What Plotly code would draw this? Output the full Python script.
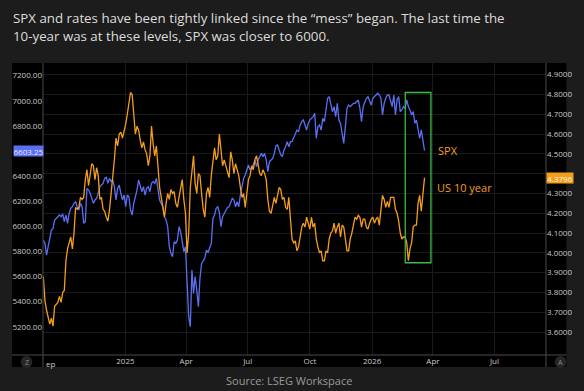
import pandas as pd
import plotly.graph_objects as go

# ---------------- data ----------------
start_date = "2024-09-01 14:00"
end_date = "2026-03-19 12:00"

ten_year = [
    3.88, 3.76, 3.71, 3.68, 3.64, 3.67, 3.63, 3.73, 3.74, 3.75,
    3.78, 3.75, 3.80, 3.81, 3.96, 4.02, 4.05, 4.08, 4.02, 4.10,
    4.23, 4.22, 4.23, 4.28, 4.27, 4.28, 4.37, 4.42, 4.34, 4.39,
    4.45, 4.44, 4.37, 4.43, 4.39, 4.27, 4.28, 4.22, 4.21, 4.18,
    4.16, 4.22, 4.30, 4.39, 4.47, 4.58, 4.54, 4.60, 4.61, 4.58,
    4.61, 4.65, 4.70, 4.76, 4.81, 4.80, 4.68, 4.60, 4.64, 4.62,
    4.57, 4.53, 4.56, 4.52, 4.50, 4.44, 4.49, 4.64, 4.55, 4.49,
    4.54, 4.42, 4.33, 4.28, 4.23, 4.18, 4.25, 4.30, 4.27, 4.32,
    4.30, 4.31, 4.25, 4.23, 4.28, 4.33, 4.37, 4.27, 4.20, 4.00,
    4.10, 4.33, 4.42, 4.49, 4.35, 4.30, 4.40, 4.39, 4.30, 4.22,
    4.18, 4.30, 4.33, 4.28, 4.39, 4.47, 4.53, 4.47, 4.49, 4.60,
    4.52, 4.44, 4.47, 4.44, 4.42, 4.38, 4.51, 4.47, 4.40, 4.45,
    4.42, 4.39, 4.33, 4.28, 4.30, 4.23, 4.30, 4.37, 4.39, 4.44,
    4.42, 4.47, 4.49, 4.44, 4.40, 4.39, 4.42, 4.40, 4.37, 4.27,
    4.21, 4.20, 4.24, 4.28, 4.25, 4.30, 4.33, 4.32, 4.27, 4.28,
    4.23, 4.22, 4.28, 4.17, 4.07, 4.05, 4.06, 4.01, 4.03, 4.08,
    4.13, 4.15, 4.13, 4.18, 4.15, 4.12, 4.18, 4.13, 4.15, 4.07,
    4.03, 4.00, 4.01, 3.96, 3.96, 4.01, 4.00, 4.07, 4.10, 4.11,
    4.15, 4.10, 4.13, 4.15, 4.08, 4.14, 4.13, 4.07, 4.01, 4.01,
    4.07, 4.10, 4.15, 4.18, 4.17, 4.19, 4.18, 4.13, 4.17, 4.17,
    4.13, 4.12, 4.15, 4.17, 4.18, 4.15, 4.17, 4.18, 4.14, 4.22,
    4.29, 4.27, 4.23, 4.26, 4.23, 4.28, 4.28, 4.28, 4.22, 4.20,
    4.16, 4.10, 4.07, 4.08, 4.08, 4.05, 3.96, 4.02, 4.05, 4.13,
    4.14, 4.14, 4.25, 4.29, 4.21, 4.28, 4.3796,
]

spx = [
    5891, 5864, 5771, 5838, 5917, 5970, 5984, 6050, 6063, 6077,
    6090, 6077, 6098, 6037, 6090, 6024, 6103, 6143, 6156, 6183,
    6196, 6156, 6130, 6183, 6156, 6024, 6037, 6302, 6289, 6263,
    6223, 6183, 6210, 6223, 6263, 6316, 6329, 6342, 6382, 6390,
    6342, 6382, 6356, 6369, 6316, 6210, 6302, 6329, 6263, 6210,
    6249, 6156, 6249, 6236, 6130, 6090, 6183, 6236, 6289, 6369,
    6329, 6276, 6316, 6249, 6302, 6316, 6276, 6342, 6356, 6342,
    6382, 6276, 6210, 6183, 6156, 6077, 6050, 5997, 5838, 5785,
    5758, 5877, 5864, 5891, 5997, 5957, 5877, 5798, 5838, 5599,
    5280, 5200, 5652, 5466, 5599, 5492, 5360, 5590, 5705, 5725,
    5750, 5810, 5790, 5830, 5864, 6063, 6090, 6143, 6156, 6110,
    5997, 6077, 6103, 6130, 6150, 6156, 6196, 6223, 6210, 6156,
    6196, 6156, 6249, 6316, 6382, 6409, 6449, 6488, 6449, 6475,
    6488, 6528, 6475, 6528, 6555, 6581, 6555, 6581, 6528, 6435,
    6515, 6528, 6541, 6581, 6640, 6648, 6608, 6568, 6555, 6608,
    6634, 6674, 6634, 6674, 6674, 6701, 6727, 6767, 6754, 6807,
    6834, 6847, 6807, 6767, 6820, 6847, 6860, 6873, 6900, 6701,
    6794, 6807, 6767, 6860, 6834, 6953, 7020, 7033, 6980, 6913,
    6953, 6873, 6980, 6847, 6820, 6754, 6661, 6794, 6940, 6966,
    6953, 6966, 6980, 6980, 6993, 7006, 6940, 6834, 6953, 6980,
    7020, 7033, 7006, 6966, 7020, 7033, 7046, 7060, 7046, 7020,
    6887, 6980, 7020, 7046, 7046, 7007, 6954, 7046, 6887, 7007,
    7033, 6914, 6927, 6954, 6940, 7007, 6954, 6927, 6887, 6914,
    6821, 6847, 6768, 6701, 6768, 6675, 6603.25,
]

dates = pd.date_range(start_date, end_date, periods=len(spx))

spx_ticks = [5200, 5400, 5600, 5800, 6000, 6200, 6400, 6600, 6800, 7000, 7200]
ten_year_ticks = [3.6, 3.7, 3.8, 3.9, 4.0, 4.1, 4.2, 4.3, 4.4, 4.5, 4.6, 4.7, 4.8, 4.9]
# the 4.4000 label sits behind the last-value tag in the reference
ten_year_tick_labels = ["" if t == 4.4 else f"{t:.4f}" for t in ten_year_ticks]
spx_tick_labels = ["" if t == 6600 else f"{t:.2f}" for t in spx_ticks]
date_ticks = ["2025-01-01", "2025-04-01", "2025-07-01", "2025-10-01",
              "2026-01-01", "2026-04-01", "2026-07-01"]
date_tick_labels = ["2025", "Apr", "Jul", "Oct", "2026", "Apr", "Jul"]

highlight_start, highlight_end = "2026-02-19", "2026-03-29"
highlight_low, highlight_high = 3.95, 4.81

title_lines = ["SPX and rates have been tightly linked since the \u201cmess\u201d began. The last time the",
               "10-year was at these levels, SPX was closer to 6000."]
source_text = "Source: LSEG Workspace"

# ---------------- styling ----------------
W, H = 584, 391
L, R, T, B = 38, 27, 63, 36
PW, PH = W - L - R, H - T - B
BLUE = "#5a6ff2"
ORANGE = "#f59e1b"
GRID = "#1a1a1a"
AXLINE = "#4a4a4a"
TICKC = "#c9c9c9"
FONT = "Open Sans"


def px(xp):
    return (xp - L) / PW


def py(yp):
    return (H - B - yp) / PH


fig = go.Figure()
fig.add_trace(go.Scatter(x=dates, y=spx, mode="lines", name="SPX",
                         line=dict(color=BLUE, width=1.3), yaxis="y"))
fig.add_trace(go.Scatter(x=dates, y=ten_year, mode="lines", name="US 10 year",
                         line=dict(color=ORANGE, width=1.3), yaxis="y2"))

shapes = [
    dict(type="rect", xref="paper", yref="paper", x0=px(6), x1=px(578), y0=py(367), y1=py(63),
         fillcolor="#000000", line=dict(width=0), layer="below"),
    dict(type="line", xref="paper", yref="paper", x0=px(38), x1=px(38), y0=py(367), y1=py(63),
         line=dict(color=AXLINE, width=1)),
    dict(type="line", xref="paper", yref="paper", x0=px(557), x1=px(557), y0=py(367), y1=py(63),
         line=dict(color=AXLINE, width=1)),
    dict(type="line", xref="paper", yref="paper", x0=px(6), x1=px(578), y0=py(355), y1=py(355),
         line=dict(color=AXLINE, width=1)),
    dict(type="rect", xref="x", yref="y2", x0=highlight_start, x1=highlight_end,
         y0=highlight_low, y1=highlight_high, line=dict(color="#3dbb45", width=1.3)),
    dict(type="circle", xref="paper", yref="paper", x0=px(15), x1=px(27), y0=py(368), y1=py(356),
         fillcolor="#262626", line=dict(width=0)),
    dict(type="circle", xref="paper", yref="paper", x0=px(566), x1=px(578), y0=py(368), y1=py(356),
         fillcolor="#262626", line=dict(width=0)),
]

annotations = [
    dict(xref="paper", yref="paper", x=px(5), y=py(18), xanchor="left", yanchor="middle",
         text=title_lines[0], showarrow=False, font=dict(family=FONT, size=13.3, color="#dcdcdc")),
    dict(xref="paper", yref="paper", x=px(5), y=py(36), xanchor="left", yanchor="middle",
         text=title_lines[1], showarrow=False, font=dict(family=FONT, size=13.3, color="#dcdcdc")),
    dict(xref="paper", yref="paper", x=0.5 * (px(0) + px(584)), y=py(380), xanchor="center",
         yanchor="middle", text=source_text, showarrow=False,
         font=dict(family=FONT, size=11, color="#9a9a9a")),
    dict(xref="paper", yref="paper", x=px(443), y=py(150), xanchor="left", yanchor="middle",
         text="SPX", showarrow=False, font=dict(family=FONT, size=11, color=ORANGE)),
    dict(xref="paper", yref="paper", x=px(442), y=py(187), xanchor="left", yanchor="middle",
         text="US 10 year", showarrow=False, font=dict(family=FONT, size=11, color=ORANGE)),
    dict(xref="paper", yref="y", x=px(7), y=spx[-1], xanchor="left", yanchor="middle",
         text=f"{spx[-1]:.2f}", showarrow=False, bgcolor=BLUE, width=29, height=10,
         borderpad=0, font=dict(family=FONT, size=8, color="#e8ebff")),
    dict(xref="paper", yref="y2", x=px(557), y=ten_year[-1], xanchor="left", yanchor="middle",
         text=f"{ten_year[-1]:.4f}", showarrow=False, bgcolor=ORANGE, width=26, height=10,
         borderpad=0, font=dict(family=FONT, size=8, color="#fff4e0")),
    dict(xref="paper", yref="paper", x=px(39), y=py(363), xanchor="left", yanchor="middle",
         text="ep", showarrow=False, font=dict(family=FONT, size=8, color=TICKC)),
    dict(xref="paper", yref="paper", x=px(21), y=py(362), xanchor="center", yanchor="middle",
         text="Z", showarrow=False, font=dict(family=FONT, size=7, color="#8a8a8a")),
    dict(xref="paper", yref="paper", x=px(572), y=py(362), xanchor="center", yanchor="middle",
         text="A", showarrow=False, font=dict(family=FONT, size=7, color="#8a8a8a")),
]

fig.update_layout(
    width=W, height=H,
    margin=dict(l=L, r=R, t=T, b=B),
    paper_bgcolor="#1c1c1c",
    plot_bgcolor="#000000",
    showlegend=False,
    font=dict(family=FONT, color=TICKC),
    xaxis=dict(range=["2024-09-01 03:00", "2026-09-15 05:00"], tickvals=date_ticks,
               ticktext=date_tick_labels, showgrid=True, gridcolor=GRID, gridwidth=1,
               zeroline=False, showline=False, ticks="", tickfont=dict(size=8, color=TICKC)),
    yaxis=dict(range=[4975, 7301], tickvals=spx_ticks, ticktext=spx_tick_labels, showgrid=False,
               zeroline=False, showline=False, ticks="", tickfont=dict(size=8, color=TICKC)),
    yaxis2=dict(range=[3.484, 4.959], tickvals=ten_year_ticks, ticktext=ten_year_tick_labels,
                overlaying="y", side="right", showgrid=True, gridcolor=GRID, gridwidth=1,
                zeroline=False, showline=False, ticks="", tickfont=dict(size=8, color=TICKC)),
    shapes=shapes,
    annotations=annotations,
)

fig.write_html("out.html", config={"displayModeBar": False},
               post_script="document.body.style.margin='0';document.body.style.overflow='hidden';")
